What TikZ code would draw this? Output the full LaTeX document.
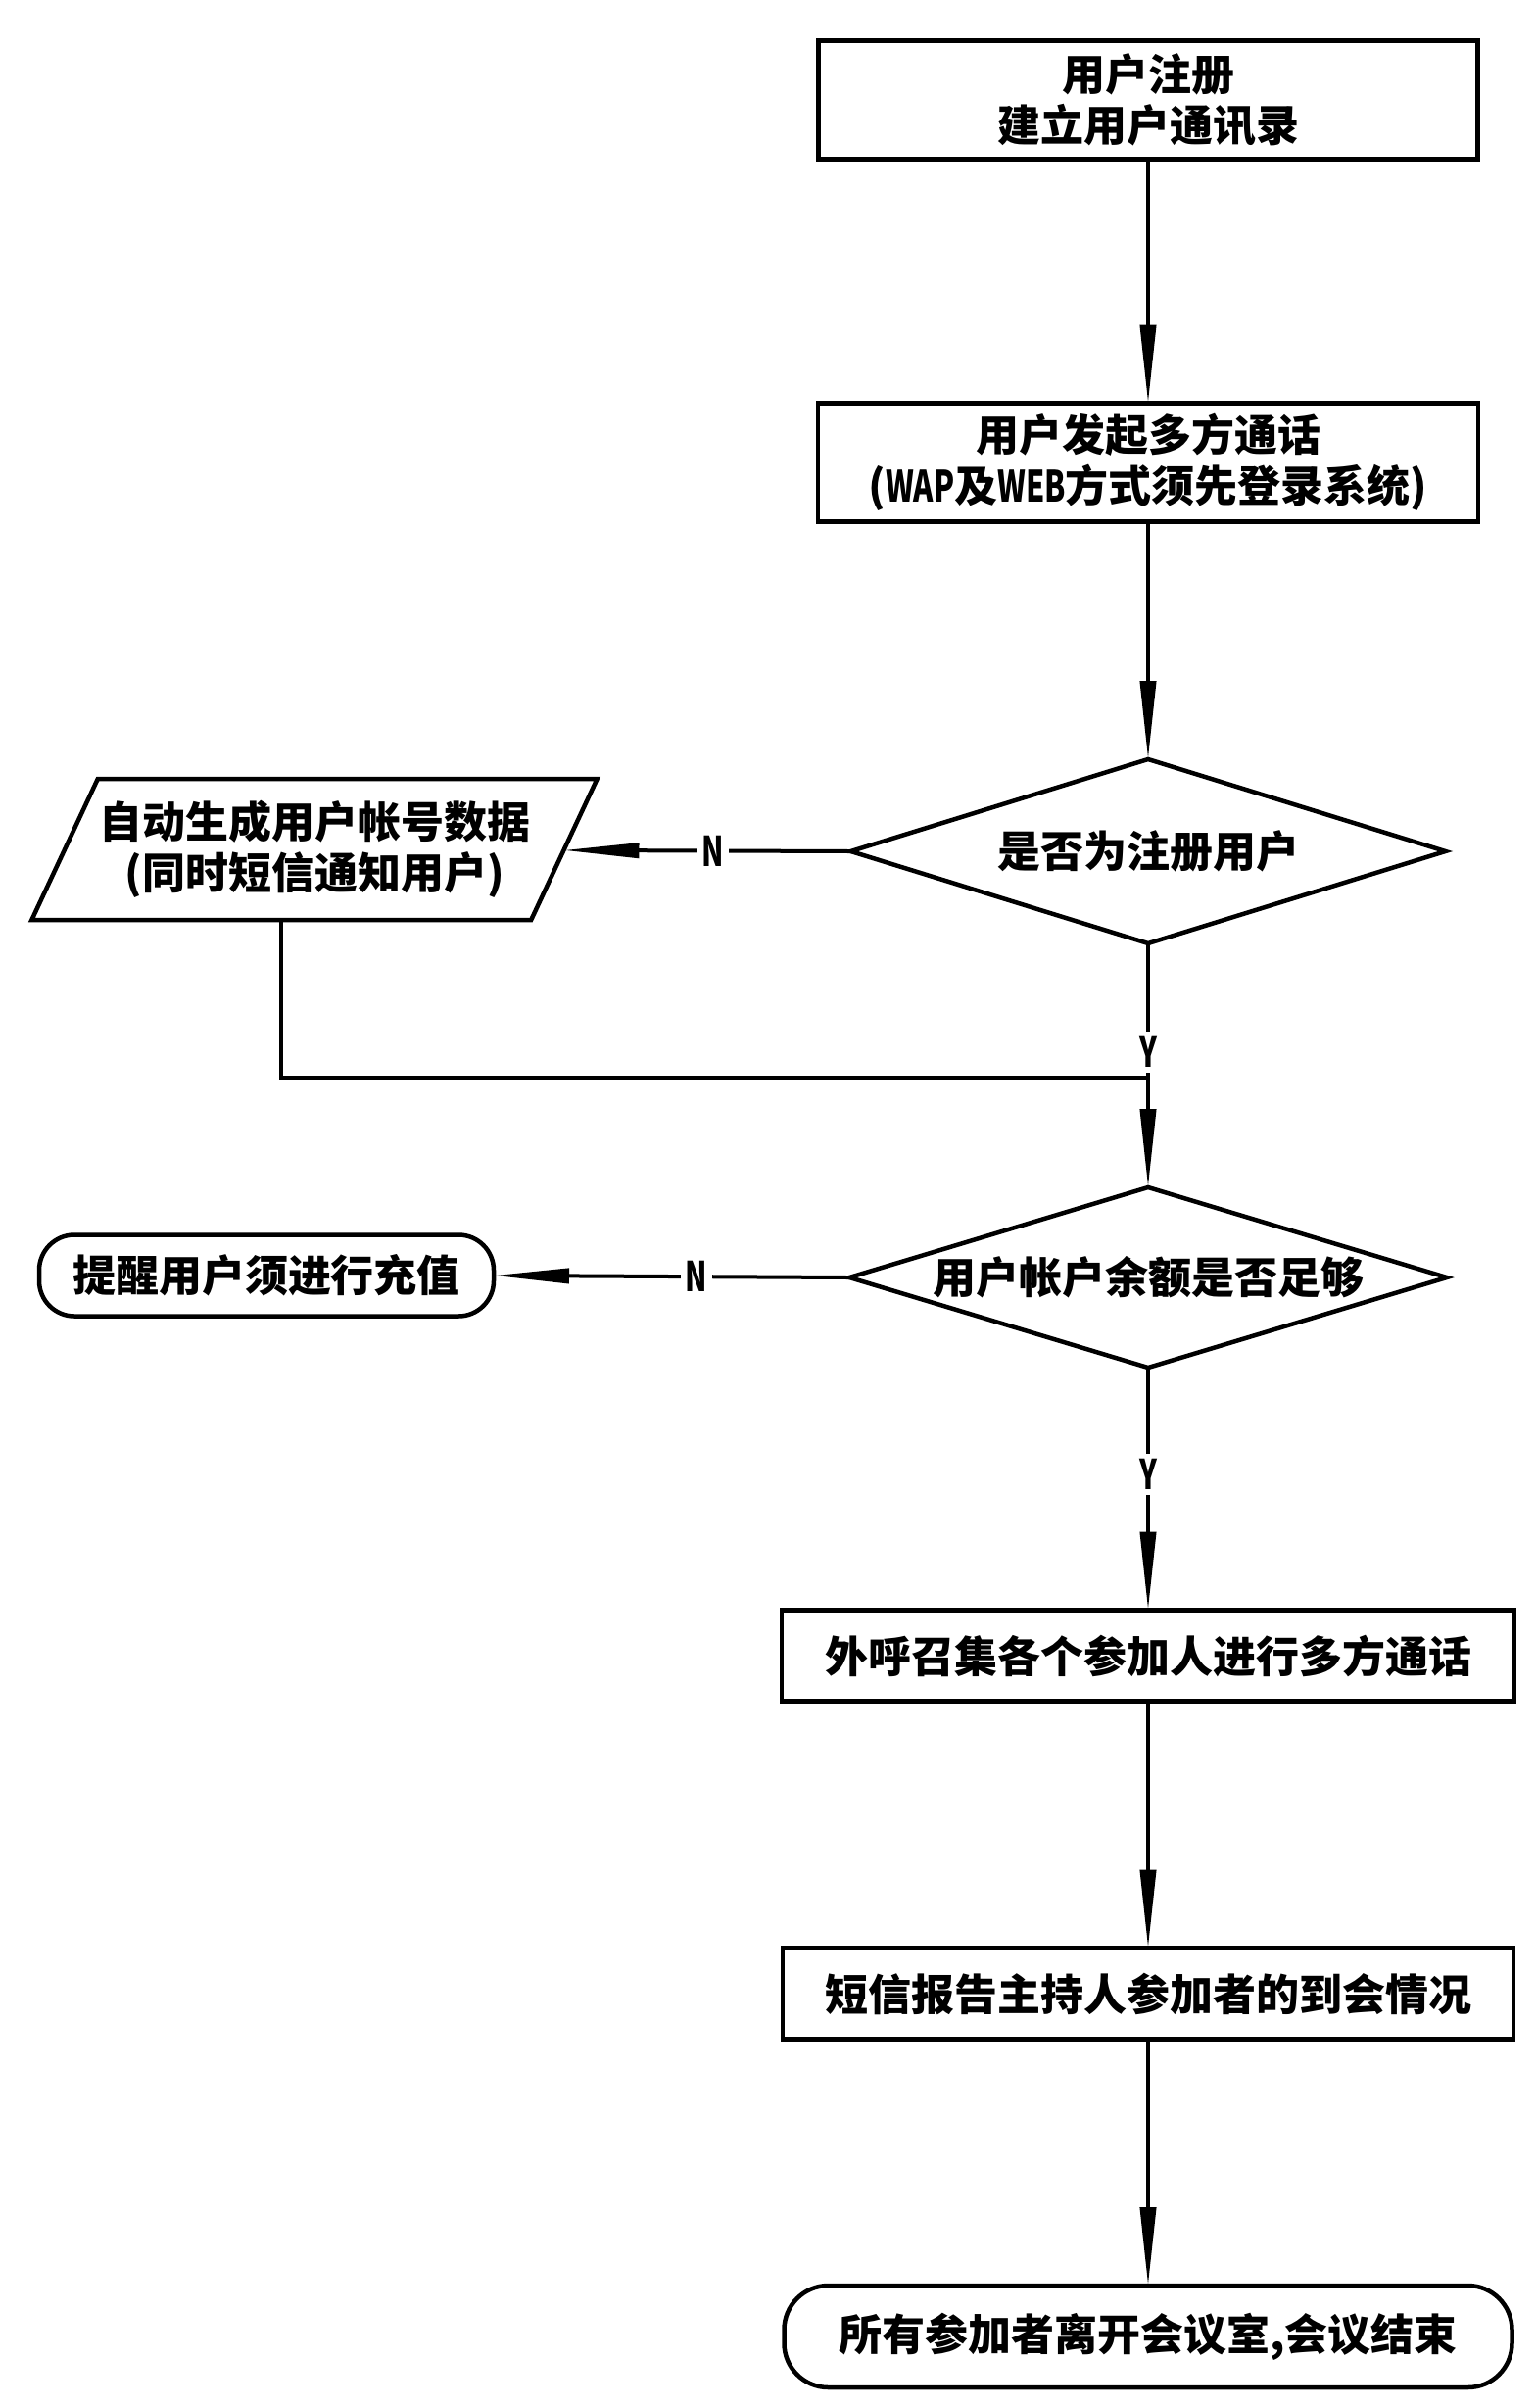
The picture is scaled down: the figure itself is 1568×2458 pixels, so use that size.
\documentclass[tikz,border=0pt]{standalone}
\usepackage{graphicx}
\usepackage{fontspec}
\setmainfont{Noto Sans CJK SC}
\usetikzlibrary{shapes.geometric,arrows.meta,calc}
\newcommand\mytxt{\fontsize{44}{52}\selectfont\bfseries}
\newcommand\mylab{\fontsize{42}{44}\selectfont\bfseries}
\newcommand\lat[1]{\scalebox{0.7}[1]{#1}}
\begin{document}
\begin{tikzpicture}[x=1pt,y=-1pt,
  box/.style={draw, rectangle, line width=4.5pt, inner sep=0pt, outer sep=0pt, align=center, font=\mytxt},
  rbox/.style={box, rounded corners=#1},
  dec/.style={draw, diamond, aspect=3.23, line width=4.5pt, inner sep=0pt, outer sep=0pt, align=center, font=\mytxt, minimum width=607pt, minimum height=188pt},
  para/.style={draw, trapezium, trapezium left angle=56, trapezium right angle=124, trapezium stretches=true, line width=4.5pt, inner sep=0pt, outer sep=0pt, align=center, font=\mytxt},
  conn/.style={line width=4pt},
  arr/.style={line width=4pt, -{Triangle[length=80pt,width=16pt]}},
  harr/.style={line width=4pt, -{Triangle[length=77pt,width=15pt]}},
  lab/.style={fill=white, inner sep=5pt, font=\mylab}
]
\useasboundingbox (0,0) rectangle (1568,2458);

\node[box, minimum width=673pt, minimum height=121pt] (b1) at (1172,102) {用户注册\\建立用户通讯录};
\node[box, minimum width=674pt, minimum height=121pt] (b2) at (1172,472) {用户发起多方通话\\(\lat{WAP}及\lat{WEB}方式须先登录系统)};
\node[dec] (d1) at (1172,869) {是否为注册用户};
\node[para, minimum width=578pt, minimum height=144pt] (p) at (321,867) {自动生成用户帐号数据\\(同时短信通知用户)};
\node[dec, minimum width=610pt, minimum height=184pt] (d2) at (1172,1304) {用户帐户余额是否足够};
\node[rbox=36pt, minimum width=464pt, minimum height=83pt] (w) at (272,1302) {提醒用户须进行充值};
\node[box, minimum width=748pt, minimum height=93pt] (b3) at (1172,1690) {外呼召集各个参加人进行多方通话};
\node[box, minimum width=746pt, minimum height=93pt] (b4) at (1172,2035) {短信报告主持人参加者的到会情况};
\node[rbox=45pt, minimum width=743pt, minimum height=104pt] (e) at (1172,2385) {所有参加者离开会议室,会议结束};

\coordinate (jn) at (1172,1100);
\coordinate (pb) at ($(p.bottom left corner)!0.5!(p.bottom right corner)$);

\draw[arr] (b1) -- (b2);
\draw[arr] (b2) -- (d1);
\draw[harr] (d1.west) -- node[lab, pos=0.48] {\lat{N}} (p);
\draw[arr] (d1.south) -- node[lab, pos=0.446] {\lat{Y}} (d2.north);
\draw[conn] (pb) |- (jn);
\draw[harr] (d2.west) -- node[lab, pos=0.43] {\lat{N}} (w.east);
\draw[arr] (d2.south) -- node[lab, pos=0.44] {\lat{Y}} (b3.north);
\draw[arr] (b3) -- (b4);
\draw[arr] (b4) -- (e);
\end{tikzpicture}
\end{document}
